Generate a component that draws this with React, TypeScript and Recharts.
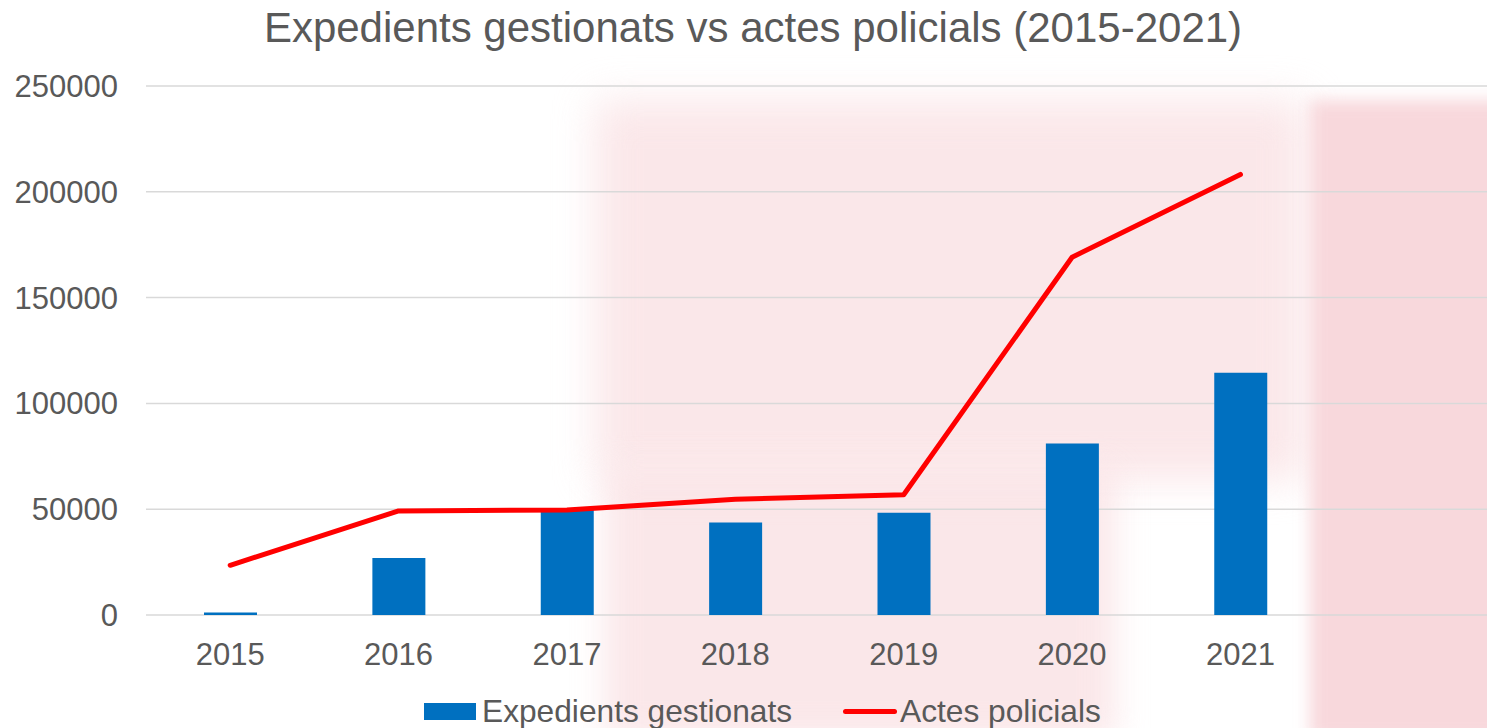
import {
  ComposedChart,
  Bar,
  Line,
  XAxis,
  YAxis,
  CartesianGrid,
  Legend
} from "recharts";

// years on the axis; Excel left one empty slot after 2021
const years = ["2015", "2016", "2017", "2018", "2019", "2020", "2021", ""];
const expedients = [1200, 26900, 50500, 43700, 48300, 81100, 114500, null];
const actes = [23500, 49200, 49600, 54700, 56800, 169100, 208200, null];
const yTicks = [0, 50000, 100000, 150000, 200000, 250000];

const data = years.map((year, i) => ({
  year,
  expedients: expedients[i],
  actes: actes[i]
}));

const FONT = "'Liberation Sans', Arial, sans-serif";
const TEXT = "#595959";
const BLUE = "#0070C0";
const RED = "#FF0000";

const LegendContent = () => (
  <div
    style={{
      display: "flex",
      alignItems: "center",
      fontFamily: FONT,
      fontSize: 31.7,
      lineHeight: "31px",
      color: TEXT,
      whiteSpace: "nowrap"
    }}
  >
    <span
      style={{ width: 52, height: 17, background: BLUE, marginRight: 6 }}
    />
    <span>Expedients gestionats</span>
    <span
      style={{
        width: 54,
        height: 5,
        borderRadius: 3,
        background: RED,
        marginLeft: 51,
        marginRight: 3
      }}
    />
    <span>Actes policials</span>
  </div>
);

const App = () => {
  return (
    <div
      style={{
        position: "absolute",
        top: 0,
        left: 0,
        width: 1487,
        height: 728,
        overflow: "hidden",
        background: "#fff"
      }}
    >
      {/* faded logo watermark behind the chart */}
      <div style={{ position: "absolute", left: 595, top: 100, width: 710, height: 380, background: "#f9dde0", filter: "blur(20px)", opacity: 0.7 }} />
      <div style={{ position: "absolute", left: 605, top: 470, width: 510, height: 270, background: "#f9dde0", filter: "blur(16px)", opacity: 0.7 }} />
      <div style={{ position: "absolute", left: 1310, top: 100, width: 200, height: 640, background: "#f8d8dc", filter: "blur(8px)" }} />

      <div
        style={{
          position: "absolute",
          top: 7,
          left: 0,
          width: 1506,
          textAlign: "center",
          fontFamily: FONT,
          fontSize: 42,
          lineHeight: "42px",
          color: TEXT
        }}
      >
        Expedients gestionats vs actes policials (2015-2021)
      </div>

      <div style={{ position: "absolute", top: 0, left: 0 }}>
        <ComposedChart
          width={1494}
          height={728}
          data={data}
          margin={{ top: 86, right: 1, bottom: 0, left: 0 }}
          style={{ fontFamily: FONT }}
        >
          <CartesianGrid
            vertical={false}
            stroke="#d9d9d9"
            strokeWidth={1.5}
          />
          <XAxis
            dataKey="year"
            height={113}
            axisLine={false}
            tickLine={false}
            tickSize={0}
            tickMargin={28}
            interval={0}
            tick={{ fill: TEXT, fontSize: 31 }}
          />
          <YAxis
            width={146}
            domain={[0, 250000]}
            ticks={yTicks}
            axisLine={false}
            tickLine={false}
            tickSize={0}
            tickMargin={28}
            tick={{ fill: TEXT, fontSize: 31 }}
          />
          <Bar
            dataKey="expedients"
            name="Expedients gestionats"
            fill={BLUE}
            barSize={53}
            isAnimationActive={false}
          />
          <Line
            type="linear"
            dataKey="actes"
            name="Actes policials"
            stroke={RED}
            strokeWidth={5}
            strokeLinecap="round"
            strokeLinejoin="round"
            dot={false}
            activeDot={false}
            isAnimationActive={false}
          />
          <Legend
            layout="vertical"
            align="center"
            verticalAlign="middle"
            content={<LegendContent />}
            wrapperStyle={{ top: 696, left: 424, width: 720 }}
          />
        </ComposedChart>
      </div>
    </div>
  );
};

export default App;
